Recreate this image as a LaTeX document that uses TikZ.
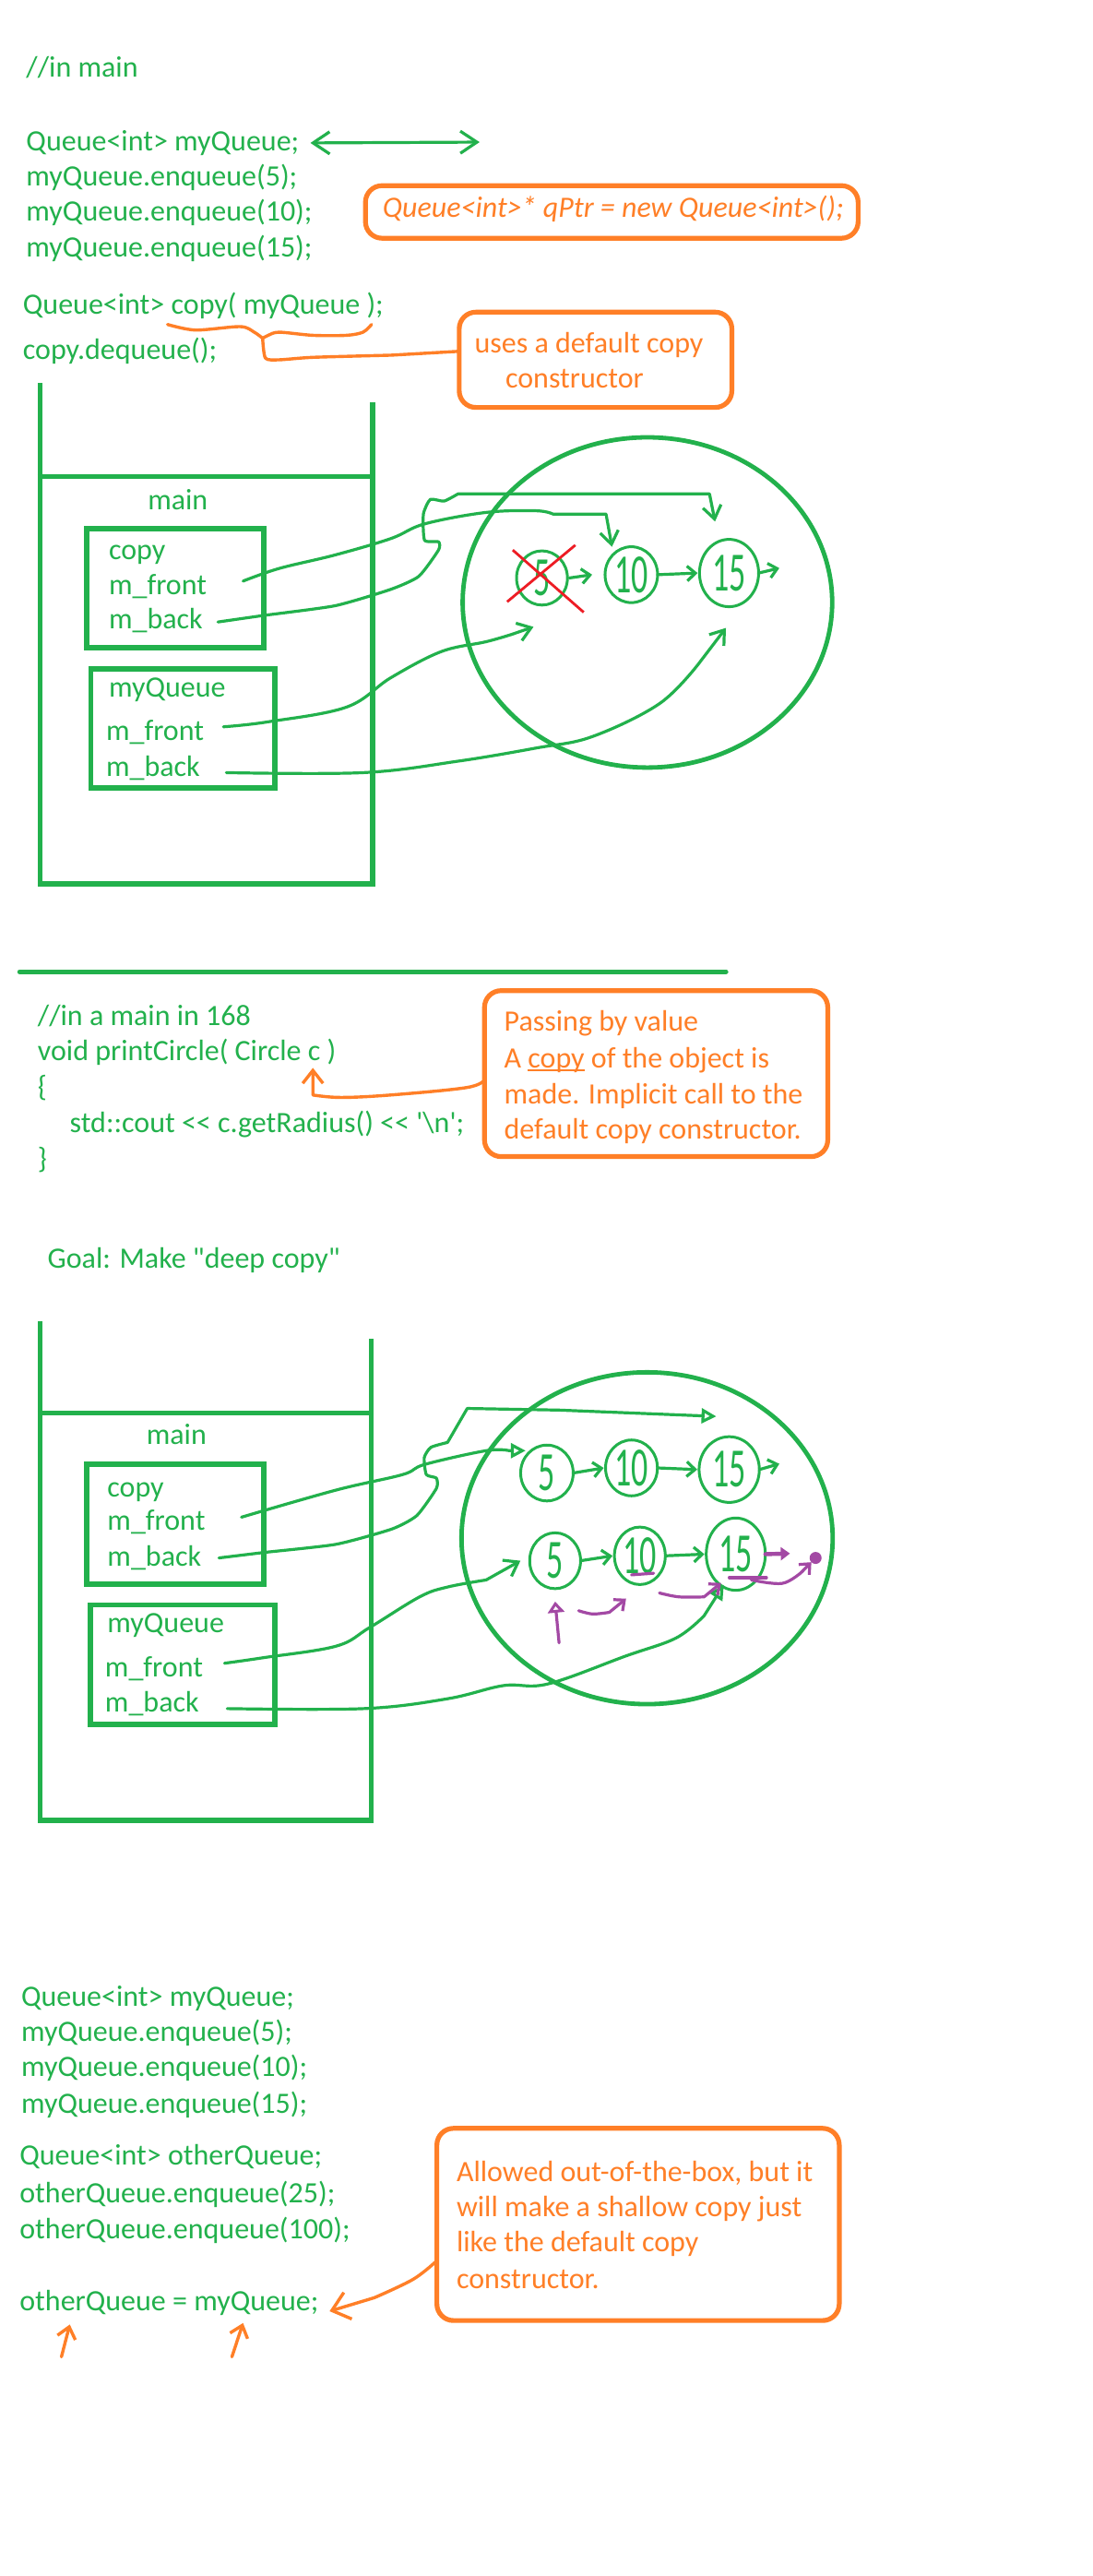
\documentclass[tikz,border=0pt]{standalone}
\usepackage{fontspec}
\setmainfont{Carlito}[Ligatures=TeXOff]
\usetikzlibrary{arrows.meta,shapes.geometric}
\definecolor{pgreen}{RGB}{34,177,76}
\definecolor{porange}{RGB}{255,127,39}
\definecolor{pred}{RGB}{237,28,36}
\definecolor{ppurple}{RGB}{163,73,164}
\newcommand\hnum[1]{\scalebox{0.6}[1]{#1}}
\newcommand\ulword[1]{\setbox0\hbox{#1}\rlap{\rule[-1.6pt]{\wd0}{1.1pt}}#1}
\begin{document}
\begin{tikzpicture}[x=0.8902pt,y=-0.8902pt,
 every node/.style={inner sep=0pt,outer sep=0pt},
 code/.style={anchor=mid west,yshift=-3pt,text=pgreen,font=\fontsize{16}{19}\selectfont},
 ntext/.style={anchor=mid west,yshift=-3pt,text=porange,font=\fontsize{16}{19}\selectfont},
 frame/.style={draw=pgreen,line width=2.8pt},
 vbox/.style={rectangle,draw=pgreen,line width=2.8pt,anchor=north west},
 heap/.style={ellipse,draw=pgreen,line width=2.4pt},
 num/.style={ellipse,draw=pgreen,line width=1.5pt,text=pgreen,font=\fontsize{30}{30}\selectfont},
 wire/.style={draw=pgreen,line width=1.6pt,line cap=round,line join=round},
 vtip/.style={-{Straight Barb[length=7pt,width=10pt]}},
 ttip/.style={-{Triangle[open,length=8pt,width=8pt]}},
 stip/.style={-{Straight Barb[length=4.5pt,width=8pt]}},
 obox/.style={rectangle,draw=porange,line width=2.6pt,rounded corners=9pt,anchor=north west},
 owire/.style={draw=porange,line width=1.7pt,line cap=round,line join=round},
 pwire/.style={draw=ppurple,line width=1.6pt,line cap=round,line join=round},
 xline/.style={draw=pred,line width=1.4pt}]
\fill[white] (0,0) rectangle (665,1568);
\useasboundingbox (0,0) rectangle (665,1568);

% ---------------- section 1 code
\node[code] (l1) at (16,41) {//in main};
\node[code] (l2) at (16,86) {Queue<int> myQueue;};
\node[code] (l3) at (16,107) {myQueue.enqueue(5);};
\node[code] (l4) at (16,128.6) {myQueue.enqueue(10);};
\node[code] (l5) at (16,150.6) {myQueue.enqueue(15);};
\node[code] (l6) at (14,185.4) {Queue<int> copy( myQueue );};
\node[code] (l7) at (14,212.5) {copy.dequeue();};
\coordinate (da1) at (189,87);
\coordinate (da2) at (292,86.5);
\draw[wire,{Straight Barb[length=9pt,width=12pt]}-{Straight Barb[length=9pt,width=12pt]}] (da1) -- (da2);

\node[obox,minimum width=300*0.8902pt,minimum height=32*0.8902pt] (qbox) at (222.5,113) {};
\node[ntext,font=\fontsize{16}{19}\selectfont\itshape] (qtext) at (233,126.4) {Queue<int>* qPtr = new Queue<int>();};

\node[obox,minimum width=166*0.8902pt,minimum height=58*0.8902pt] (ubox) at (279.6,190) {};
\node[ntext] (ut1) at (289,208.8) {uses a default copy};
\node[ntext] (ut2) at (307.8,230.3) {constructor};
\draw[owire] plot[smooth,tension=0.5] coordinates {(102,197.5) (119,200.9) (146.3,198.8) (154.8,202.2) (159.9,205.9)};
\draw[owire] plot[smooth,tension=0.5] coordinates {(159.9,205.9) (163.3,204.1) (170,202.2) (190.5,204.1) (210.9,204.1) (221,202.2) (226.2,197.5)};
\draw[owire] plot[smooth,tension=0.4] coordinates {(159.9,205.9) (161.6,218) (170,219) (190.5,217.5) (238,216.2)} -- ([yshift=4.6pt]ubox.west);

% ---------------- stack frame 1
\draw[frame] (24.5,233) -- (24.5,538) -- (226.9,538) -- (226.9,245);
\draw[frame] (23,290) -- (226.9,290);
\node[code] (m1) at (90,304) {main};
\node[vbox,minimum width=108*0.8902pt,minimum height=72.5*0.8902pt] (cb1) at (52.7,321.9) {};
\node[code] (c1a) at (66.3,334.8) {copy};
\node[code] (c1b) at (66.3,355.7) {m\_front};
\node[code] (c1c) at (66.3,376.7) {m\_back};
\node[vbox,minimum width=112*0.8902pt,minimum height=72.6*0.8902pt] (qb1) at (55.4,407) {};
\node[code] (q1a) at (66.3,418.5) {myQueue};
\node[code] (q1b) at (64.6,444.4) {m\_front};
\node[code] (q1c) at (64.6,466.3) {m\_back};

% heap 1
\node[heap,minimum width=225*0.8902pt,minimum height=201*0.8902pt] (heap1) at (394.2,366.7) {};
\node[num,minimum width=31*0.8902pt,minimum height=33*0.8902pt] (n1a) at (330,351.8) {\hnum{5}};
\node[num,minimum width=32*0.8902pt,minimum height=34*0.8902pt] (n1b) at (384.4,349.8) {\hnum{10}};
\node[num,minimum width=36*0.8902pt,minimum height=41*0.8902pt] (n1c) at (443.9,348.8) {\hnum{15}};
\draw[wire,stip] ([xshift=1pt]n1a.east) -- ([xshift=-7pt]n1b.west);
\draw[wire,stip] ([xshift=0pt]n1b.east) -- ([xshift=-1pt]n1c.west);
\coordinate (e1) at (474.5,345.8);
\draw[wire,stip] (n1c.east) -- (e1);
\draw[xline] (312.2,334.8) -- (355.4,372.7);
\draw[xline] (350.3,331.8) -- (308.8,366.3);

\coordinate (s1) at (148,353.7);
\draw[wire,vtip] plot[smooth,tension=0.6] coordinates {(s1) (170,346) (204,337.8) (238,327.8) (258.5,318.9) (296,311.9) (326.5,310.9) (336.7,312.9)} -- (369,312.9) -- ([xshift=-10.5pt]n1b.north);
\coordinate (s2) at (132.7,378.6);
\draw[wire,vtip] plot[smooth,tension=0.35] coordinates {(s2) (159.9,374.7) (204,368.7) (238,358.7) (255,350.8) (267,334.8) (267,329.8) (258.5,328.8) (257.8,312.9) (262,304) (270.4,305) (278.9,300.6)} -- (432,300.6) -- ([xshift=-7.6pt,yshift=9.7pt]n1c.north);
\coordinate (s3) at (136,442.4);
\draw[wire,vtip] plot[smooth,tension=0.6] coordinates {(s3) (163,439.4) (211,430.4) (238,412.5) (268.7,396.6) (296,390.6) (312,386)} -- ([xshift=-4.6pt,yshift=-11.8pt]n1a.south);
\coordinate (s4) at (137.8,470.3);
\draw[wire,vtip] plot[smooth,tension=0.6] coordinates {(s4) (221,470.3) (279,463.3) (326.5,455.3) (360.5,448.4) (401.4,428.4) (425,404.5)} -- ([xshift=-1.7pt,yshift=-11.5pt]n1c.south);

% separator
\draw[pgreen,line width=2.6pt,line cap=round] (12,591.5) -- (442,591.5);

% ---------------- section 2 code
\node[code] (p1) at (23,618) {//in a main in 168};
\node[code] (p2) at (23,639.5) {void printCircle( Circle c )};
\node[code] (p3) at (23,661.5) {\{};
\node[code] (p4) at (42.5,683.5) {std::cout << c.getRadius() << '\textbackslash n';};
\node[code] (p5) at (23,705) {\}};
\node[obox,minimum width=209*0.8902pt,minimum height=101*0.8902pt] (nb2) at (295,603) {};
\node[ntext] (pt1) at (307,621.7) {Passing by value};
\node[ntext] (pt2) at (307,644) {A \ulword{copy} of the object is};
\node[ntext] (pt3) at (307,665.8) {made. Implicit call to the};
\node[ntext] (pt4) at (307,687.3) {default copy constructor.};
\coordinate (a2s) at ([yshift=-3.4pt]nb2.west);
\coordinate (a2e) at (190.5,650);
\draw[owire,-{Straight Barb[length=7pt,width=11pt]}] plot[smooth,tension=0.6] coordinates {(a2s) (284,662) (238,666.5) (207.5,668) (190.5,666.5)} -- (a2e);

\node[code] (goal) at (29,766) {Goal: Make "deep copy"};

% ---------------- stack frame 2
\draw[frame] (24.5,804) -- (24.5,1108) -- (226,1108) -- (226,815);
\draw[frame] (23,860) -- (226,860);
\node[code] (m2) at (89.2,873.2) {main};
\node[vbox,minimum width=107.6*0.8902pt,minimum height=73*0.8902pt] (cb2) at (52.9,891.4) {};
\node[code] (c2a) at (65.4,904.9) {copy};
\node[code] (c2b) at (65.4,925.6) {m\_front};
\node[code] (c2c) at (65.4,947.3) {m\_back};
\node[vbox,minimum width=112*0.8902pt,minimum height=72.8*0.8902pt] (qb2) at (55.2,976.8) {};
\node[code] (q2a) at (65.4,987.6) {myQueue};
\node[code] (q2b) at (64,1014.5) {m\_front};
\node[code] (q2c) at (64,1036.2) {m\_back};

\node[heap,minimum width=226*0.8902pt,minimum height=202*0.8902pt] (heap2) at (394,936.3) {};
\node[num,minimum width=32*0.8902pt,minimum height=34*0.8902pt] (n2a) at (333,896.6) {\hnum{5}};
\node[num,minimum width=31.6*0.8902pt,minimum height=34*0.8902pt] (n2b) at (384.5,893.5) {\hnum{10}};
\node[num,minimum width=36.7*0.8902pt,minimum height=40*0.8902pt] (n2c) at (444,894.5) {\hnum{15}};
\node[num,minimum width=31*0.8902pt,minimum height=34*0.8902pt] (n3a) at (338,950) {\hnum{5}};
\node[num,minimum width=31*0.8902pt,minimum height=35*0.8902pt] (n3b) at (389.6,947) {\hnum{10}};
\node[num,minimum width=36*0.8902pt,minimum height=44*0.8902pt] (n3c) at (448,946) {\hnum{15}};
\draw[wire,stip] (n2a.east) -- ([xshift=-1pt]n2b.west);
\draw[wire,stip] (n2b.east) -- ([xshift=-1pt]n2c.west);
\coordinate (e2) at (474.5,891);
\draw[wire,stip] (n2c.east) -- (e2);
\draw[wire,stip] (n3a.east) -- ([xshift=-1pt]n3b.west);
\draw[wire,stip] (n3b.east) -- ([xshift=-1pt]n3c.west);
\coordinate (e3) at (481,945.6);
\draw[pwire,line width=2.2pt,-{Triangle[length=5pt,width=7pt]}] (n3c.east) -- (e3);

\coordinate (s5) at (147,923.5);
\draw[wire,ttip] plot[smooth,tension=0.6] coordinates {(s5) (204.6,907) (245,897.6) (258.6,891.4) (296,883) (310,883)} -- ([xshift=2.7pt,yshift=12.1pt]n2a.west);
\coordinate (s6) at (133.3,948.3);
\draw[wire,ttip] plot[smooth,tension=0.35] coordinates {(s6) (160.5,945) (204.6,940) (238.6,930.7) (253.8,922.5) (265.7,906) (265.7,899.7) (259.6,897.6) (258.3,887.3) (262.3,881) (272.5,878)} -- (284.5,857.3) -- (340.4,858.3) -- ([xshift=-7pt,yshift=11pt]n2c.north);
\coordinate (s7) at (136.7,1012.4);
\draw[wire,vtip] plot[smooth,tension=0.6] coordinates {(s7) (160.5,1009) (204.6,1002) (225,990.7) (255.5,972) (272.5,966) (296,961.7)} -- ([xshift=-5pt]n3a.west);
\coordinate (s8) at (138.4,1040);
\draw[wire,ttip] plot[smooth,tension=0.6] coordinates {(s8) (221.6,1040) (272.5,1034) (306.5,1026) (333.6,1025) (381,1008) (411.7,997) (428.7,983.5)} -- ([xshift=-6.5pt,yshift=3pt]n3c.south);

% purple marks
\node[circle,fill=ppurple,minimum size=6.5pt] (pdot) at (496.6,948.3) {};
\draw[pwire] (444,960.3) -- (466.7,960.3);
\draw[pwire] (384.5,958.6) -- (398,957.6);
\coordinate (pc1) at (457.5,961.7);
\draw[pwire,stip] plot[smooth,tension=0.6] coordinates {(pc1) (476.2,963.8) (488,957)} -- (pdot.south west);
\coordinate (pc2) at (401.5,969.6);
\coordinate (pc3) at (439,963.5);
\draw[pwire,stip] plot[smooth,tension=0.6] coordinates {(pc2) (413.4,972) (428.7,972)} -- (pc3);
\coordinate (pc4) at (340.4,1000);
\draw[pwire,-{Triangle[open,length=6pt,width=9pt]}] (pc4) -- ([yshift=-7pt]n3a.south);
\coordinate (pc5) at (352.3,980.4);
\coordinate (pc6) at (381.2,973.1);
\draw[pwire,stip] plot[smooth,tension=0.6] coordinates {(pc5) (360.8,982.4) (371,981.4)} -- (pc6);

% ---------------- section 3
\node[code] (r1) at (13,1215) {Queue<int> myQueue;};
\node[code] (r2) at (13,1236.5) {myQueue.enqueue(5);};
\node[code] (r3) at (13,1258) {myQueue.enqueue(10);};
\node[code] (r4) at (13,1280.5) {myQueue.enqueue(15);};
\node[code] (r5) at (12,1312) {Queue<int> otherQueue;};
\node[code] (r6) at (12,1335) {otherQueue.enqueue(25);};
\node[code] (r7) at (12,1356.4) {otherQueue.enqueue(100);};
\node[code] (r8) at (12,1400.5) {otherQueue = myQueue;};
\node[obox,minimum width=245*0.8902pt,minimum height=117*0.8902pt] (nb3) at (266,1295.5) {};
\node[ntext] (rt1) at (278,1321.7) {Allowed out-of-the-box, but it};
\node[ntext] (rt2) at (278,1343.2) {will make a shallow copy just};
\node[ntext] (rt3) at (278,1364.7) {like the default copy};
\node[ntext] (rt4) at (278,1387.2) {constructor.};
\coordinate (a3s) at ([yshift=-19.6pt]nb3.west);
\draw[owire,-{Straight Barb[length=9pt,width=15pt]}] plot[smooth,tension=0.6] coordinates {(a3s) (251.7,1387.3) (227.9,1398.6)} -- ([xshift=6pt,yshift=-4.5pt]r8.east);
\coordinate (u1s) at (37.4,1434.6);
\coordinate (u1e) at (42.5,1414.9);
\coordinate (u2s) at (141.2,1434.6);
\coordinate (u2e) at (148,1414);
\draw[owire,-{Straight Barb[length=6pt,width=10pt]}] (u1s) -- (u1e);
\draw[owire,-{Straight Barb[length=6pt,width=10pt]}] (u2s) -- (u2e);
\end{tikzpicture}
\end{document}
